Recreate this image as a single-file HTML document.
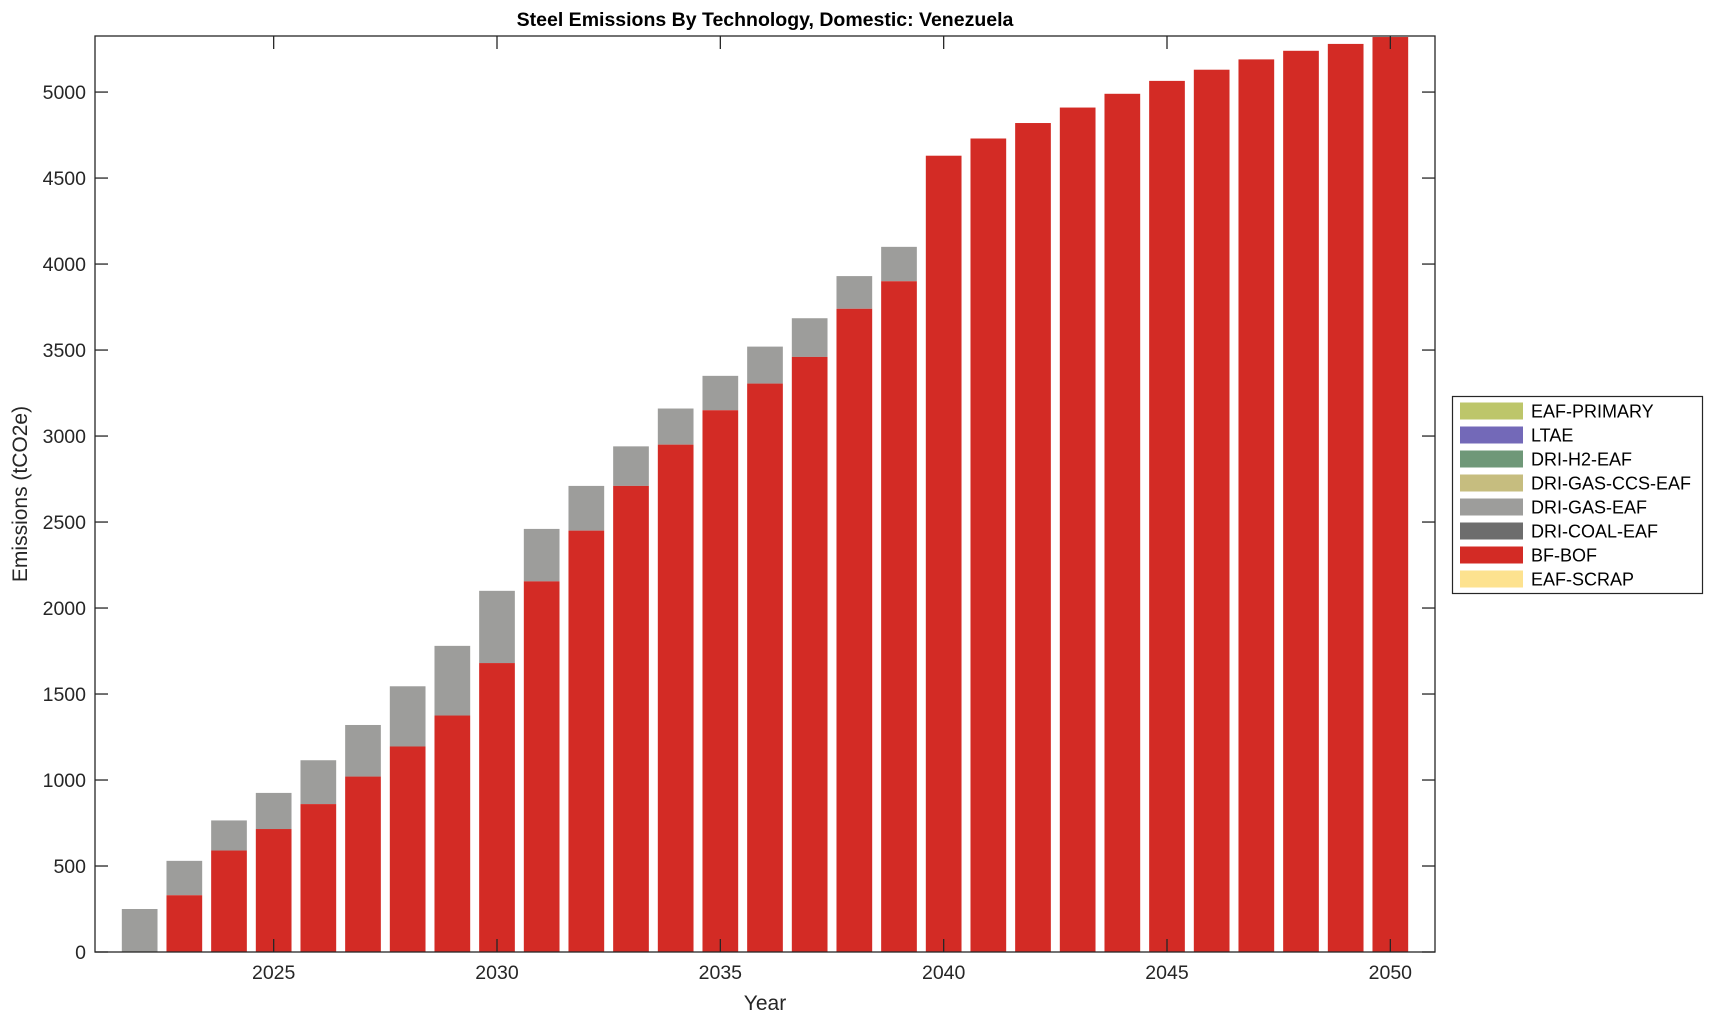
<!DOCTYPE html>
<html><head><meta charset="utf-8"><style>
html,body{margin:0;padding:0;background:#fff}
svg{display:block;font-family:"Liberation Sans",Arial,sans-serif}
</style></head><body>
<svg id="s" width="1714" height="1021" xmlns="http://www.w3.org/2000/svg">
<text x="765" y="26" text-anchor="middle" font-size="19.5" font-weight="bold" fill="#000">Steel Emissions By Technology, Domestic: Venezuela</text>
<g id="bars"></g>
<g id="ax" stroke="#262626" stroke-width="1.3" fill="none"><rect x="95" y="36" width="1340" height="916"/></g>
<g id="lab" font-size="19.5" fill="#262626"></g>
<text x="765" y="1010" text-anchor="middle" font-size="21" fill="#262626">Year</text>
<text transform="translate(27,494) rotate(-90)" text-anchor="middle" font-size="21" fill="#262626">Emissions (tCO2e)</text>
<g id="leg"><rect x="1452.5" y="396.5" width="250" height="197" fill="#fff" stroke="#262626" stroke-width="1.2"/></g>
</svg>
<script>
var NS="http://www.w3.org/2000/svg";
function el(p,t,a,txt){var e=document.createElementNS(NS,t);for(var k in a)e.setAttribute(k,a[k]);if(txt!=null)e.textContent=txt;document.getElementById(p).appendChild(e);return e;}
var red=[0,330,590,715,860,1020,1195,1375,1680,2155,2450,2710,2950,3150,3305,3460,3740,3900,4630,4730,4820,4910,4990,5065,5130,5190,5240,5280,5320];
var tot=[250,530,765,925,1115,1320,1545,1780,2100,2460,2710,2940,3160,3350,3520,3685,3930,4100,4630,4730,4820,4910,4990,5065,5130,5190,5240,5280,5320];
var ymax=5326,y0=952,H=916,x0=95,W=1340;
function Y(v){return y0-v/ymax*H;}
function X(yr){return x0+(yr-2021)/30*W;}
for(var i=0;i<red.length;i++){
 var cx=X(2022+i),bw=35.7;
 if(tot[i]>red[i]) el("bars","rect",{x:cx-bw/2,y:Y(tot[i]),width:bw,height:Y(red[i])-Y(tot[i]),fill:"#9d9d9b"});
 if(red[i]>0) el("bars","rect",{x:cx-bw/2,y:Y(red[i]),width:bw,height:y0-Y(red[i]),fill:"#d32b25"});
}
for(var v=0;v<=5000;v+=500){var y=Y(v);
 el("ax","line",{x1:95,y1:y,x2:108,y2:y});el("ax","line",{x1:1435,y1:y,x2:1422,y2:y});
 el("lab","text",{x:86,y:y+7,"text-anchor":"end"},v);}
for(var yr=2025;yr<=2050;yr+=5){var x=X(yr);
 el("ax","line",{x1:x,y1:952,x2:x,y2:939});el("ax","line",{x1:x,y1:36,x2:x,y2:49});
 el("lab","text",{x:x,y:979,"text-anchor":"middle"},yr);}
var L=[["EAF-PRIMARY","#bdc66a"],["LTAE","#7369b8"],["DRI-H2-EAF","#6f9878"],["DRI-GAS-CCS-EAF","#c6bd7f"],["DRI-GAS-EAF","#9d9d9b"],["DRI-COAL-EAF","#6d6d6d"],["BF-BOF","#d32b25"],["EAF-SCRAP","#fde28f"]];
for(var j=0;j<L.length;j++){var cy=411+j*24;
 el("leg","rect",{x:1460,y:cy-8.5,width:63,height:17,fill:L[j][1]});
 el("leg","text",{x:1531,y:cy+6.5,"font-size":"18",fill:"#000"},L[j][0]);}
</script>
</body></html>
